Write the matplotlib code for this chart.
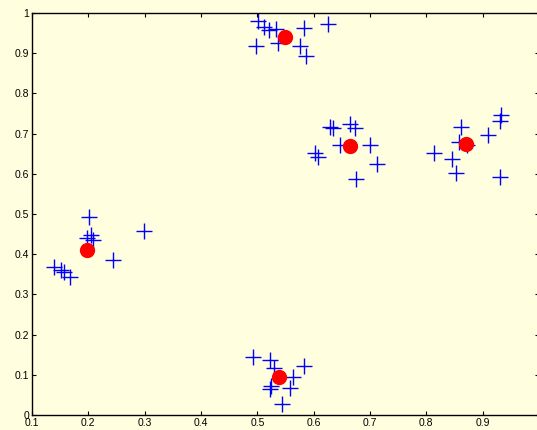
import matplotlib
matplotlib.use('Agg')
import matplotlib.pyplot as plt
from matplotlib.ticker import FuncFormatter

# data points
pts_x = [0.502, 0.521, 0.534, 0.498, 0.537, 0.582, 0.625, 0.576, 0.586, 0.512,
         0.629, 0.635, 0.664, 0.673, 0.647, 0.700, 0.602, 0.608, 0.713, 0.676,
         0.932, 0.930, 0.862, 0.910, 0.858, 0.872, 0.813, 0.845, 0.852, 0.930,
         0.202, 0.198, 0.205, 0.209, 0.298, 0.243, 0.139, 0.151, 0.156, 0.167,
         0.492, 0.522, 0.530, 0.583, 0.564, 0.558, 0.522, 0.525, 0.543]
pts_y = [0.981, 0.958, 0.959, 0.919, 0.925, 0.962, 0.972, 0.919, 0.893, 0.965,
         0.716, 0.713, 0.724, 0.713, 0.672, 0.672, 0.651, 0.643, 0.624, 0.587,
         0.746, 0.732, 0.717, 0.697, 0.680, 0.672, 0.651, 0.636, 0.603, 0.593,
         0.493, 0.440, 0.448, 0.436, 0.458, 0.386, 0.369, 0.361, 0.355, 0.343,
         0.145, 0.137, 0.116, 0.122, 0.095, 0.066, 0.064, 0.072, 0.027]

# cluster centres
cen_x = [0.549, 0.664, 0.870, 0.198, 0.539]
cen_y = [0.941, 0.670, 0.673, 0.410, 0.095]

xticks = [0.1, 0.2, 0.3, 0.4, 0.5, 0.6, 0.7, 0.8, 0.9]
yticks = [0, 0.1, 0.2, 0.3, 0.4, 0.5, 0.6, 0.7, 0.8, 0.9, 1.0]

bg = '#ffffe0'
fig = plt.figure(figsize=(5.37, 4.30), dpi=100, facecolor=bg)
# right edge of the axes sits just outside the picture, as in the original
ax = fig.add_axes([32 / 537, 15 / 430, 507 / 537, 402 / 430], facecolor=bg)

ax.plot(pts_x, pts_y, '+', color='#0000ff', markersize=11.5, markeredgewidth=1.0)
ax.plot(cen_x, cen_y, 'o', color='#ff0000', markersize=10, markeredgecolor='#ff0000')

ax.set_xlim(0.1, 1.0)
ax.set_ylim(0, 1)
ax.set_xticks(xticks)
ax.set_yticks(yticks)
fmt = FuncFormatter(lambda v, p: '%g' % round(v, 2))
ax.xaxis.set_major_formatter(fmt)
ax.yaxis.set_major_formatter(fmt)
ax.tick_params(direction='in', length=3, width=0.8, labelsize=7.5, pad=2,
               top=True, right=True)
for lab in ax.get_xticklabels() + ax.get_yticklabels():
    lab.set_fontfamily('Liberation Sans')
for s in ax.spines.values():
    s.set_linewidth(1.0)

fig.savefig('out.png', dpi=100, facecolor=bg)
